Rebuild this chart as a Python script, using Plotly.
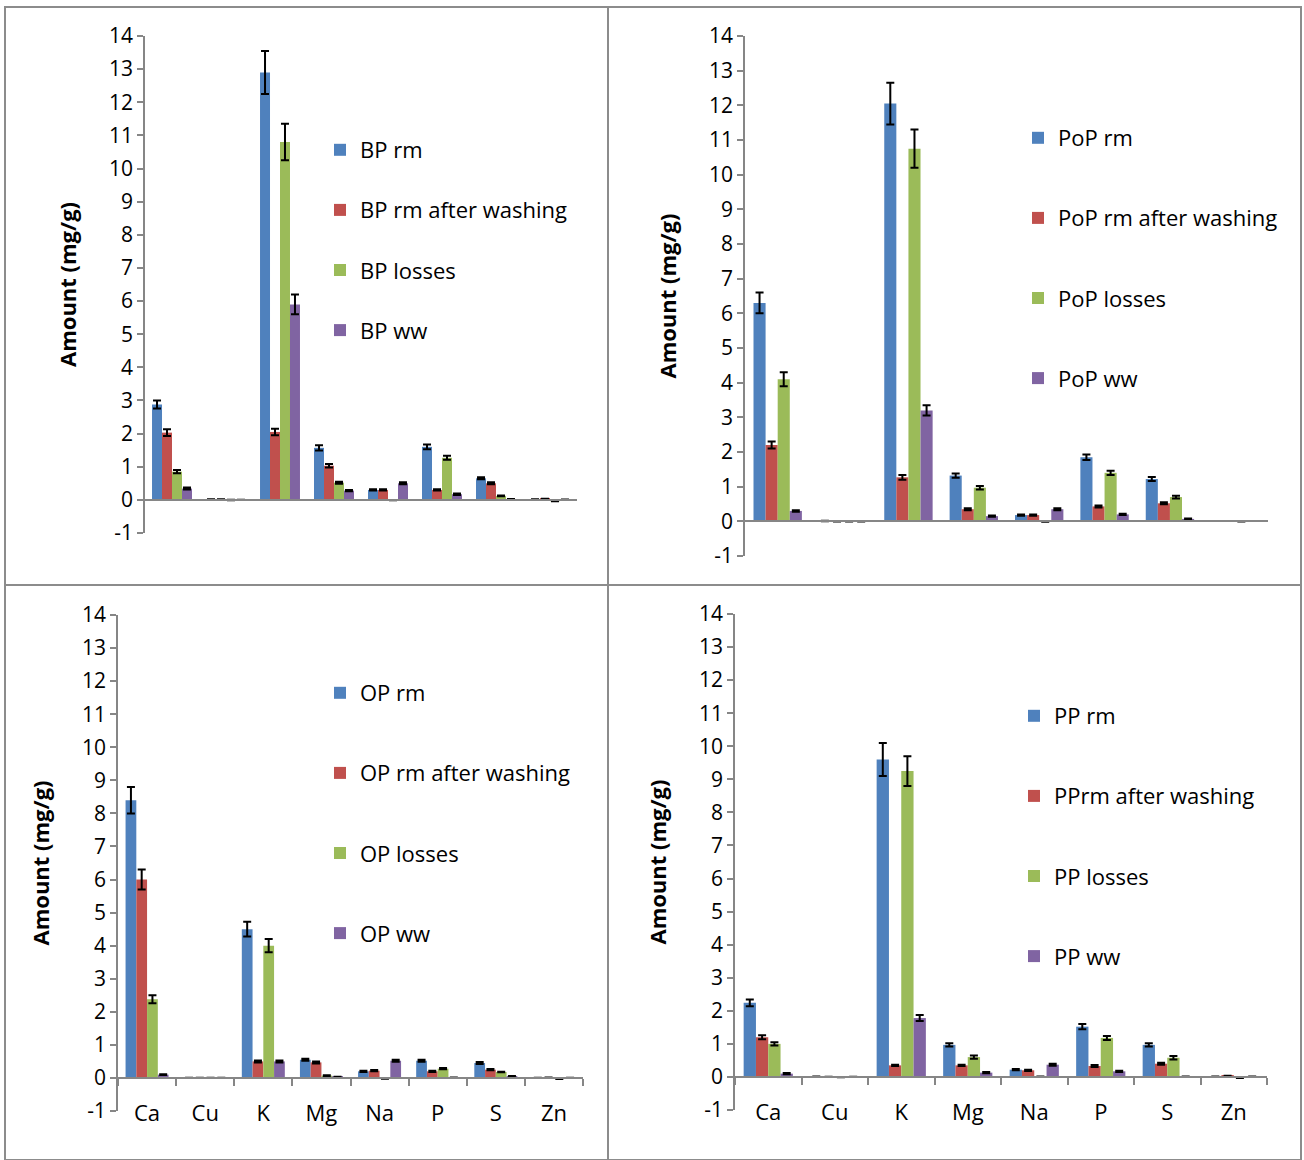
import plotly.graph_objects as go

categories = ["Ca", "Cu", "K", "Mg", "Na", "P", "S", "Zn"]
y_tick_values = list(range(-1, 15))
y_tick_labels = ["-1", "0", "1", "2", "3", "4", "5", "6", "7", "8", "9", "10", "11", "12", "13", "14"]

# BP panel
bp_names = ["BP rm", "BP rm after washing", "BP losses", "BP ww"]
bp_rm = [2.88, 0.01, 12.9, 1.57, 0.30, 1.60, 0.65, 0.01]
bp_rm_err = [0.12, 0.005, 0.65, 0.08, 0.02, 0.07, 0.03, 0.005]
bp_rmw = [2.03, 0.01, 2.05, 1.03, 0.30, 0.30, 0.50, 0.03]
bp_rmw_err = [0.10, 0.005, 0.10, 0.05, 0.02, 0.02, 0.03, 0.005]
bp_loss = [0.85, -0.005, 10.8, 0.52, -0.01, 1.27, 0.12, -0.04]
bp_loss_err = [0.05, 0.005, 0.55, 0.03, 0.005, 0.06, 0.01, 0.005]
bp_ww = [0.34, 0.0, 5.9, 0.28, 0.50, 0.17, 0.02, 0.01]
bp_ww_err = [0.03, 0.003, 0.30, 0.02, 0.03, 0.02, 0.005, 0.003]

# PoP panel
pop_names = ["PoP rm", "PoP rm after washing", "PoP losses", "PoP ww"]
pop_rm = [6.30, 0.01, 12.05, 1.32, 0.18, 1.85, 1.22, 0.01]
pop_rm_err = [0.30, 0.005, 0.60, 0.06, 0.02, 0.08, 0.06, 0.003]
pop_rmw = [2.20, 0.0, 1.27, 0.35, 0.18, 0.43, 0.52, 0.01]
pop_rmw_err = [0.10, 0.003, 0.07, 0.03, 0.02, 0.03, 0.03, 0.003]
pop_loss = [4.10, 0.0, 10.75, 0.97, -0.01, 1.40, 0.70, 0.0]
pop_loss_err = [0.20, 0.003, 0.55, 0.05, 0.005, 0.06, 0.04, 0.003]
pop_ww = [0.30, 0.0, 3.20, 0.15, 0.35, 0.20, 0.07, 0.01]
pop_ww_err = [0.02, 0.003, 0.15, 0.02, 0.03, 0.02, 0.01, 0.003]

# OP panel
op_names = ["OP rm", "OP rm after washing", "OP losses", "OP ww"]
op_rm = [8.40, 0.0, 4.50, 0.55, 0.20, 0.52, 0.45, 0.0]
op_rm_err = [0.40, 0.003, 0.22, 0.03, 0.02, 0.03, 0.03, 0.003]
op_rmw = [6.00, 0.0, 0.50, 0.47, 0.22, 0.20, 0.25, 0.01]
op_rmw_err = [0.30, 0.003, 0.03, 0.03, 0.02, 0.02, 0.02, 0.003]
op_loss = [2.38, 0.0, 4.00, 0.07, -0.02, 0.28, 0.18, -0.03]
op_loss_err = [0.12, 0.003, 0.20, 0.01, 0.005, 0.02, 0.01, 0.005]
op_ww = [0.10, 0.0, 0.50, 0.03, 0.52, 0.01, 0.05, 0.0]
op_ww_err = [0.01, 0.003, 0.03, 0.005, 0.03, 0.003, 0.01, 0.003]

# PP panel
pp_names = ["PP rm", "PPrm after washing", "PP losses", "PP ww"]
pp_rm = [2.24, 0.01, 9.60, 0.97, 0.22, 1.52, 0.97, 0.01]
pp_rm_err = [0.10, 0.003, 0.50, 0.05, 0.02, 0.08, 0.05, 0.003]
pp_rmw = [1.20, 0.0, 0.35, 0.35, 0.20, 0.33, 0.40, 0.03]
pp_rmw_err = [0.06, 0.003, 0.02, 0.02, 0.02, 0.03, 0.03, 0.003]
pp_loss = [1.00, -0.01, 9.25, 0.60, 0.01, 1.18, 0.58, -0.03]
pp_loss_err = [0.05, 0.003, 0.45, 0.05, 0.003, 0.06, 0.05, 0.005]
pp_ww = [0.10, 0.0, 1.78, 0.13, 0.37, 0.17, 0.01, 0.01]
pp_ww_err = [0.02, 0.003, 0.09, 0.02, 0.03, 0.02, 0.003, 0.003]

colors = ["#4F81BD", "#C0504D", "#9BBB59", "#8064A2"]
FONT = "Open Sans"
W, H = 1304, 1160

panels = [
    dict(names=bp_names, vals=[bp_rm, bp_rmw, bp_loss, bp_ww],
         errs=[bp_rm_err, bp_rmw_err, bp_loss_err, bp_ww_err],
         xpx=(145, 577), ypx=(36, 533), labels=False,
         legend=(320, 129, 28.5)),
    dict(names=pop_names, vals=[pop_rm, pop_rmw, pop_loss, pop_ww],
         errs=[pop_rm_err, pop_rmw_err, pop_loss_err, pop_ww_err],
         xpx=(745, 1268), ypx=(36, 556), labels=False,
         legend=(1018, 117, 48.5)),
    dict(names=op_names, vals=[op_rm, op_rmw, op_loss, op_ww],
         errs=[op_rm_err, op_rmw_err, op_loss_err, op_ww_err],
         xpx=(118, 583), ypx=(615, 1111), labels=True,
         legend=(320, 672, 48.5)),
    dict(names=pp_names, vals=[pp_rm, pp_rmw, pp_loss, pp_ww],
         errs=[pp_rm_err, pp_rmw_err, pp_loss_err, pp_ww_err],
         xpx=(735, 1267), ypx=(614, 1110), labels=True,
         legend=(1014, 695, 48.5)),
]

fig = go.Figure()
layout = dict(
    width=W, height=H, margin=dict(l=0, r=0, t=0, b=0, autoexpand=False),
    paper_bgcolor="white", plot_bgcolor="white",
    barmode="group", bargap=0.26, bargroupgap=0.0,
    font=dict(family=FONT, size=20, color="black"),
    shapes=[],
)

xpos = list(range(len(categories)))
boundaries = [i - 0.5 for i in range(len(categories) + 1)]

for p_i, p in enumerate(panels, start=1):
    suffix = "" if p_i == 1 else str(p_i)
    legname = "legend" if p_i == 1 else f"legend{p_i}"
    for s_i in range(4):
        fig.add_trace(go.Bar(
            x=xpos, y=p["vals"][s_i], name=p["names"][s_i],
            marker=dict(color=colors[s_i], line=dict(width=0)),
            error_y=dict(type="data", array=p["errs"][s_i], visible=True,
                         color="black", thickness=2, width=4),
            xaxis="x" + suffix, yaxis="y" + suffix,
            legend=legname, legendgroup=f"g{p_i}_{s_i}",
        ))
    x0, x1 = p["xpx"][0] / W, p["xpx"][1] / W
    y0, y1 = 1 - p["ypx"][1] / H, 1 - p["ypx"][0] / H
    zero_pos = y0 + (1 / 15) * (y1 - y0)
    layout["xaxis" + suffix] = dict(
        domain=[x0, x1], range=[-0.5, 7.5], anchor="free", position=zero_pos,
        showline=True, linecolor="#868686", linewidth=1.5,
        showgrid=False, zeroline=False, automargin=False,
        tickmode="array", tickvals=boundaries if p["labels"] else [],
        ticktext=[""] * len(boundaries) if p["labels"] else [],
        ticks="outside" if p["labels"] else "", ticklen=7,
        tickcolor="#868686", tickwidth=1.5, showticklabels=False,
    )
    layout["yaxis" + suffix] = dict(
        domain=[y0, y1], range=[-1, 14], anchor="x" + suffix,
        tickmode="array", tickvals=y_tick_values, ticktext=y_tick_labels,
        showline=True, linecolor="#868686", linewidth=1.5,
        ticks="outside", ticklen=6, tickcolor="#868686", tickwidth=1.5,
        showgrid=False, zeroline=False, automargin=False,
        tickfont=dict(size=21, family=FONT),
        title=dict(text="<b>Amount (mg/g)</b>", font=dict(size=22, family=FONT), standoff=26),
    )
    if p["labels"]:
        lab_idx = p_i + 4
        layout[f"xaxis{lab_idx}"] = dict(
            domain=[x0, x1], range=[-0.5, 7.5], overlaying="x" + suffix,
            anchor="free", position=y0 + 13 / H, side="bottom", showline=False,
            showgrid=False, zeroline=False, ticks="", automargin=False,
            tickmode="array", tickvals=xpos, ticktext=categories,
            tickfont=dict(size=22, family=FONT),
        )
        fig.add_trace(go.Bar(x=[], y=[], xaxis=f"x{lab_idx}", yaxis="y" + suffix,
                             showlegend=False, hoverinfo="skip"))
    lx, ly, gap = p["legend"]
    layout[legname] = dict(
        x=lx / W, y=1 - ly / H, xanchor="left", yanchor="top",
        orientation="v", tracegroupgap=gap, traceorder="grouped",
        font=dict(size=22, family=FONT), bgcolor="rgba(0,0,0,0)",
        itemwidth=30,
    )

# panel borders
border = dict(type="rect", xref="paper", yref="paper",
              line=dict(color="#8C8C8C", width=2), fillcolor="rgba(0,0,0,0)")
bx = [5 / W, 608 / W, 1301 / W]
by = [1 - 7 / H, 1 - 585 / H, 0.0]
for (a, b) in [(0, 1), (1, 2)]:
    for (c, d) in [(0, 1), (1, 2)]:
        layout["shapes"].append(dict(border, x0=bx[a], x1=bx[b], y0=by[d], y1=by[c]))

fig.update_layout(**layout)
fig.write_html("out.html")
